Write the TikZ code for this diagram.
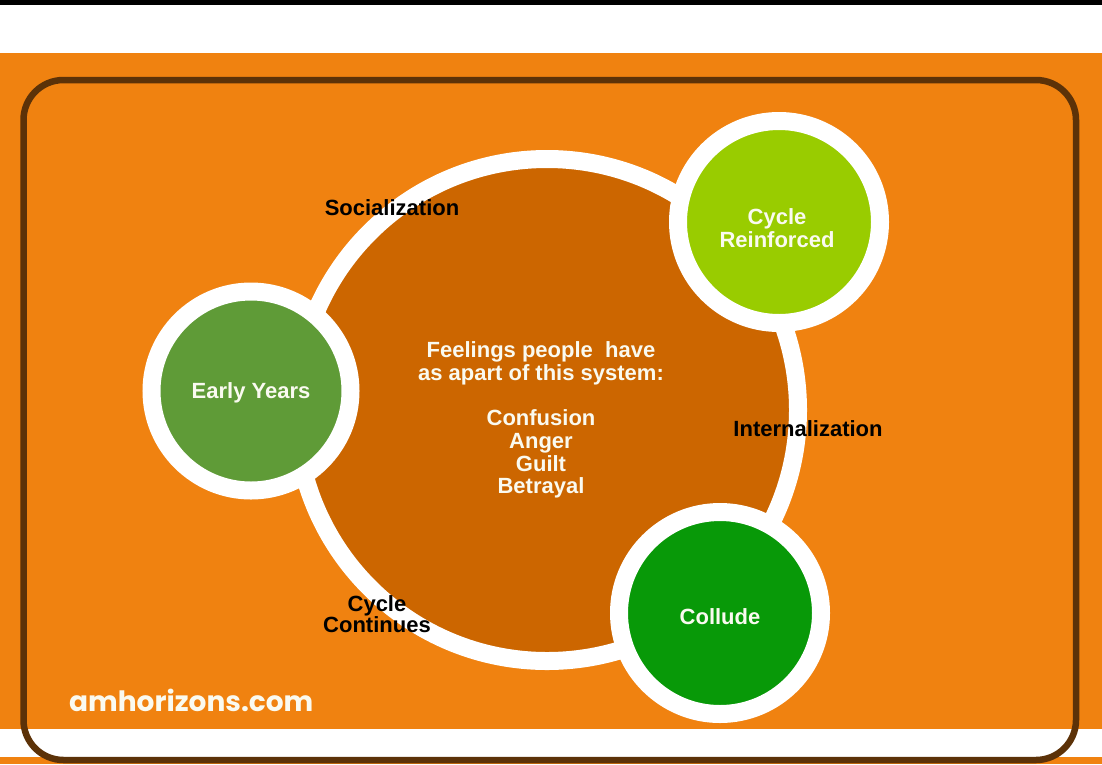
\documentclass[tikz,border=0pt]{standalone}
\usepackage{fontspec}
\setmainfont{Liberation Sans}
\newfontfamily\sitefont{Poppins}
\definecolor{bgorange}{RGB}{240,130,16}
\definecolor{hubbrown}{RGB}{204,102,0}
\definecolor{framebrown}{RGB}{92,50,8}
\definecolor{earlygreen}{RGB}{95,155,55}
\definecolor{limegreen}{RGB}{153,204,0}
\definecolor{colludegreen}{RGB}{8,153,8}
\definecolor{paleink}{RGB}{250,250,240}
\tikzset{
  hub/.style={circle,draw=white,line width=18pt,fill=hubbrown,minimum size=502pt,inner sep=0pt},
  stage/.style={circle,draw=white,line width=18pt,minimum size=202pt,inner sep=0pt},
  stagetext/.style={text=paleink,font=\bfseries\fontsize{22}{23}\selectfont,align=center,inner sep=0pt},
  phase/.style={text=black,font=\bfseries\fontsize{22}{23}\selectfont,align=center,inner sep=0pt}
}
\begin{document}
\begin{tikzpicture}[x=1pt,y=-1pt]

\fill[white](0,0)rectangle(1102,764);
\fill[black](0,0)rectangle(1102,5);
\fill[bgorange](0,53)rectangle(1102,729);
\fill[bgorange](0,757)rectangle(1102,764);
\draw[framebrown,line width=6.5pt,rounded corners=40pt](23.5,80)rectangle(1076,760);

\node[hub](feel) at (547,410){};
\node[stagetext,font=\bfseries\fontsize{22}{22.7}\selectfont](feeltext) at (541,420)
  {Feelings people\ \ have\\as apart of this system:\\[22.7pt]Confusion\\Anger\\Guilt\\Betrayal};

\node[stage,fill=earlygreen,minimum size=199pt](early) at (251,391){};
\node[stage,fill=limegreen](reinf) at (779,222){};
\node[stage,fill=colludegreen](collude) at (720,613){};
\node[stagetext](earlytext) at ([yshift=-2pt]early.center){Early Years};
\node[stagetext](reinftext) at ([xshift=-2pt,yshift=-6pt]reinf.center){Cycle\\Reinforced};
\node[stagetext](colludetext) at ([yshift=-4pt]collude.center){Collude};

\node[phase](social) at (392,208){Socialization};
\node[phase](intern) at (808,429){Internalization};
\node[phase,font=\bfseries\fontsize{22}{20}\selectfont](contin) at (377,614){Cycle\\Continues};

\node[anchor=west,text=paleink,font=\sitefont\bfseries\fontsize{28}{30}\selectfont,inner sep=0pt](site) at (69,700){amhorizons.com};

\end{tikzpicture}
\end{document}
